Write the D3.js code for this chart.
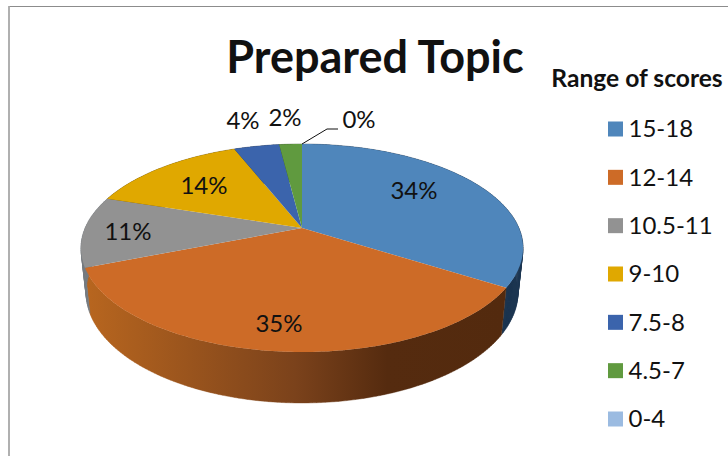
<!DOCTYPE html>
<html>
<head>
<meta charset="utf-8">
<script src="https://cdn.jsdelivr.net/npm/d3@7"></script>
<style>
html, body { margin: 0; padding: 0; background: #fff; }
svg { display: block; }
text { font-family: Lato, "Open Sans", sans-serif; fill: #111; }
</style>
</head>
<body>
<div id="chart"></div>
<script>
var categories = ['15-18', '12-14', '10.5-11', '9-10', '7.5-8', '4.5-7', '0-4'];
var percents = [34, 35, 11, 14, 4, 2, 0];
var topColors = ['#4f86bb', '#cd6b27', '#929292', '#e0a800', '#3b64ac', '#609a3f', '#9bbbe1'];
var sideColors = ['#1c3650', 'url(#orangeSide)', '#767b80', '#6e5200', '#1d3154', '#2f4c1f', '#4d6071'];

var width = 728, height = 456;

// the pie is drawn in perspective, so the centre is not the middle of the ellipse
var cx = 302, cy = 228, tilt = -0.1923, scaleX = 216.9, scaleY = 100.15;

var svg = d3.select('#chart').append('svg')
    .attr('width', width)
    .attr('height', height);

var defs = svg.append('defs');
var orangeSide = defs.append('linearGradient')
    .attr('id', 'orangeSide')
    .attr('gradientUnits', 'userSpaceOnUse')
    .attr('x1', 85).attr('x2', 505).attr('y1', 0).attr('y2', 0);
orangeSide.append('stop').attr('offset', '0%').attr('stop-color', '#b8661f');
orangeSide.append('stop').attr('offset', '50%').attr('stop-color', '#7b421b');
orangeSide.append('stop').attr('offset', '72%').attr('stop-color', '#552b0f');
orangeSide.append('stop').attr('offset', '100%').attr('stop-color', '#532a0e');

// frame of the chart area
svg.append('line').attr('x1', 9).attr('x2', width).attr('y1', 6.5).attr('y2', 6.5)
    .attr('stroke', '#8c8c8c').attr('stroke-width', 1.2);
svg.append('line').attr('x1', 9).attr('x2', 9).attr('y1', 6).attr('y2', height)
    .attr('stroke', '#a8a8a8').attr('stroke-width', 1.8);

var project = function (angle, r) {
    var u = Math.sin(angle) * r,
        v = -Math.cos(angle) * r,
        w = 1 + tilt * v;
    return [cx + scaleX * u / w, cy + scaleY * v / w];
};

// the lower rim is a little narrower and sits lower
var lower = function (p) {
    return [cx + (p[0] - cx) * 0.977, p[1] + 43.25 + (p[1] - cy) * 0.0625];
};

var rim = function (d) {
    var n = Math.max(2, Math.ceil((d.endAngle - d.startAngle) * 60));
    return d3.range(n + 1).map(function (i) {
        return project(d.startAngle + (d.endAngle - d.startAngle) * i / n, 1);
    });
};

var pie = d3.pie().sort(null).value(function (d) { return d; });
var slices = pie(percents);
var line = d3.line();

// side wall is swept segment by segment so the silhouette stays filled
svg.append('g').selectAll('path')
    .data(slices)
    .join('path')
    .attr('d', function (d) {
        var top = rim(d);
        return d3.pairs(top).map(function (p) {
            return line([p[0], p[1], lower(p[1]), lower(p[0])]) + 'Z';
        }).join('');
    })
    .attr('fill', function (d, i) { return sideColors[i]; })
    .attr('stroke', function (d, i) { return sideColors[i]; })
    .attr('stroke-width', 0.4);

svg.append('g').selectAll('path')
    .data(slices)
    .join('path')
    .attr('d', function (d) {
        return line([[cx, cy]].concat(rim(d))) + 'Z';
    })
    .attr('fill', function (d, i) { return topColors[i]; });

// leader line of the 0% label
var leaderStart = project(slices[6].startAngle, 1);
svg.append('path')
    .attr('d', line([leaderStart, [leaderStart[0] + 25, leaderStart[1] - 15], [leaderStart[0] + 36, leaderStart[1] - 15]]))
    .attr('fill', 'none')
    .attr('stroke', '#111')
    .attr('stroke-width', 1);

// label places measured from the pie centre
var labelOffsets = [[112, -37], [-23, 96], [-174, 4], [-98, -42], [-59, -107], [-17, -110], [57, -108]];

svg.append('g').selectAll('text')
    .data(percents)
    .join('text')
    .attr('x', function (d, i) { return cx + labelOffsets[i][0]; })
    .attr('y', function (d, i) { return cy + labelOffsets[i][1]; })
    .attr('dy', '0.35em')
    .attr('text-anchor', 'middle')
    .style('font-size', '24px')
    .text(function (d) { return d + '%'; });

svg.append('text')
    .attr('x', 375)
    .attr('y', 73)
    .attr('text-anchor', 'middle')
    .style('font-size', '45px')
    .style('font-weight', 700)
    .text('Prepared Topic');

svg.append('text')
    .attr('x', 637)
    .attr('y', 87)
    .attr('text-anchor', 'middle')
    .style('font-size', '24.6px')
    .style('font-weight', 700)
    .text('Range of scores');

var legendY = d3.scalePoint()
    .domain(categories)
    .range([129, 419]);

var legend = svg.append('g').selectAll('g')
    .data(categories)
    .join('g')
    .attr('transform', function (d) { return 'translate(608,' + legendY(d) + ')'; });

legend.append('rect')
    .attr('y', -7.5)
    .attr('width', 15)
    .attr('height', 15)
    .attr('fill', function (d, i) { return topColors[i]; });

legend.append('text')
    .attr('x', 20.5)
    .attr('dy', '0.35em')
    .style('font-size', '24px')
    .text(function (d) { return d; });
</script>
</body>
</html>
